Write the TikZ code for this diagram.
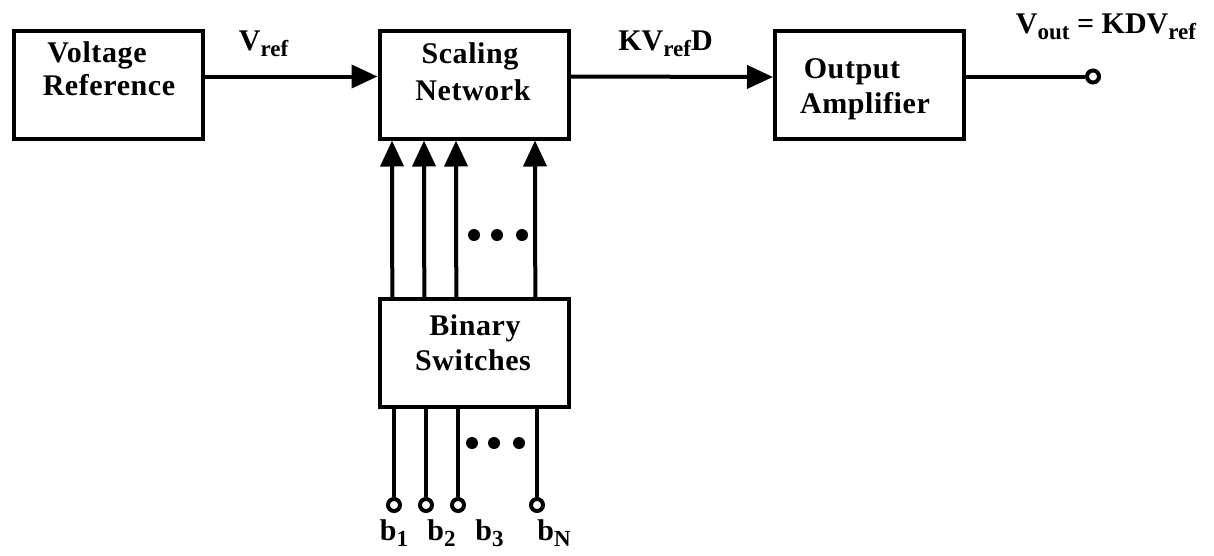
\documentclass[tikz,border=0pt]{standalone}
\usepackage{fontspec}
\setmainfont{Liberation Serif}
\usetikzlibrary{arrows.meta}
\newcommand\lsub[1]{\raisebox{-6pt}{\fontsize{23}{23}\selectfont #1}}
\begin{document}
\begin{tikzpicture}[x=1pt,y=-1pt,
  blk/.style={draw,line width=4pt,minimum width=189pt,minimum height=108pt,inner sep=0pt},
  btxt/.style={anchor=base,inner sep=0pt,font=\fontsize{30}{36}\selectfont\bfseries\addfontfeatures{LetterSpace=2}},
  lbl/.style={anchor=base,inner sep=0pt,font=\fontsize{30}{36}\selectfont\bfseries},
  wire/.style={line width=4pt},
  arr/.style={line width=4pt,-{Triangle[length=26pt,width=23pt]}},
  term/.style={circle,draw,line width=4pt,fill=white,minimum size=12pt,inner sep=0pt},
  dot/.style={circle,fill=black,minimum size=12pt,inner sep=0pt}]
\useasboundingbox (0,0) rectangle (1214,555);
% blocks
\node[blk] (vr) at (108.5,84.5) {};
\node[blk] (sn) at (474,84.5) {};
\node[blk] (oa) at (869.5,85) {};
\node[blk] (bs) at (474.3,353) {};
% block texts
\node[btxt] (t1a) at (97,62) {Voltage};
\node[btxt] (t1b) at (109,95) {Reference};
\node[btxt] (t2a) at (470,63.5) {Scaling};
\node[btxt] (t2b) at (473,100) {Network};
\node[btxt] (t3a) at (852,78) {Output};
\node[btxt] (t3b) at (865,113) {Amplifier};
\node[btxt] (t4a) at (475,335) {Binary};
\node[btxt] (t4b) at (473,370.5) {Switches};
% horizontal connectors
\draw[arr] ([yshift=8pt]vr.east) -- ([yshift=8pt]sn.west);
\draw[arr] ([yshift=8pt]sn.east) -- ([yshift=8pt]oa.west);
\node[term] (out) at (1093,76.5) {};
\draw[wire] (oa.east |- out) -- (out);
% labels
\node[lbl] (lv) at (263.5,50) {V\lsub{ref}};
\node[lbl] (lk) at (665.5,50) {KV\lsub{ref}D};
\node[lbl] (lo) at (1106,33) {V\lsub{out} = KDV\lsub{ref}};
% vertical arrows
\foreach \dx in {14.5,46.5,78.5,157.5}
  \draw[arr] ([xshift=\dx pt]bs.north west) -- ([xshift=\dx pt]sn.south west);
\node[dot] (d1) at (474,235) {};
\node[dot] (d2) at (497,235) {};
\node[dot] (d3) at (522,235) {};
% lower terminals
\node[term] (b1) at (394,505) {};
\node[term] (b2) at (426,505) {};
\node[term] (b3) at (458,505) {};
\node[term] (bn) at (537,505) {};
\draw[wire] (bs.south -| b1) -- (b1);
\draw[wire] (bs.south -| b2) -- (b2);
\draw[wire] (bs.south -| b3) -- (b3);
\draw[wire] (bs.south -| bn) -- (bn);
\node[dot] (d4) at (472,443) {};
\node[dot] (d5) at (494,443) {};
\node[dot] (d6) at (519,443) {};
\node[lbl] (l1) at (394,540) {b\lsub{1}};
\node[lbl] (l2) at (441.5,540) {b\lsub{2}};
\node[lbl] (l3) at (489.5,540) {b\lsub{3}};
\node[lbl] (l4) at (554,540) {b\lsub{N}};
\end{tikzpicture}
\end{document}
